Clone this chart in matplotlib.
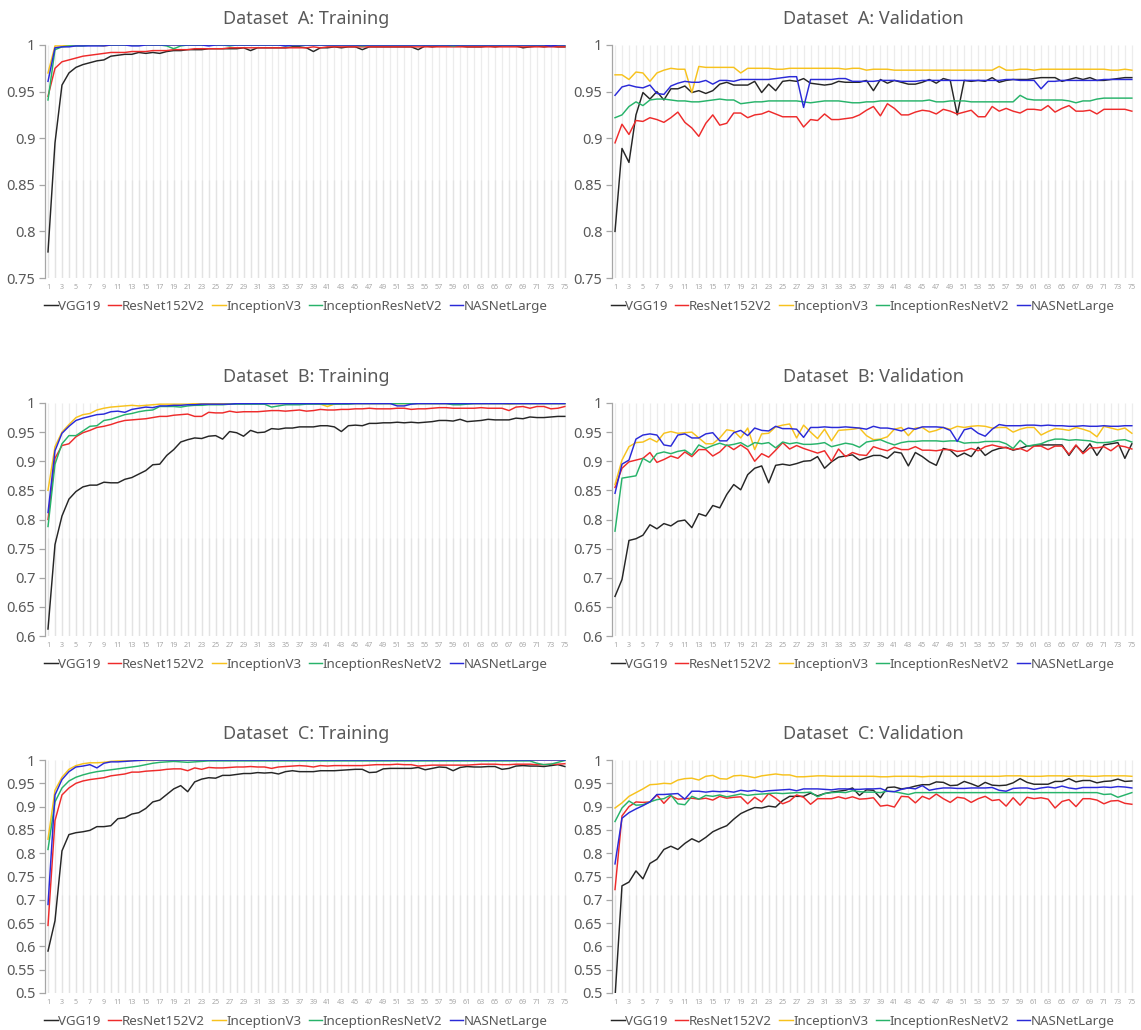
import numpy as np
import matplotlib
matplotlib.use('Agg')
import matplotlib.pyplot as plt
from matplotlib.ticker import FuncFormatter

plt.rcParams['font.family'] = ['Noto Sans', 'DejaVu Sans']

models = ['VGG19', 'ResNet152V2', 'InceptionV3', 'InceptionResNetV2', 'NASNetLarge']
colors = ['#262626', '#ee2b2b', '#f7c21d', '#27b36a', '#2a2ad8']

# ---- Dataset A: training
a_tr_vgg = [0.778, 0.895, 0.957, 0.970, 0.976, 0.979, 0.981, 0.983, 0.984, 0.988, 0.989, 0.990, 0.990, 0.992, 0.991,
            0.992, 0.991, 0.993, 0.994, 0.994, 0.995, 0.995, 0.995, 0.996, 0.996, 0.996, 0.996, 0.996, 0.997, 0.994,
            0.997, 0.997, 0.997, 0.997, 0.997, 0.998, 0.998, 0.997, 0.993, 0.997, 0.997, 0.998, 0.997, 0.998, 0.998,
            0.995, 0.998, 0.998, 0.998, 0.998, 0.998, 0.998, 0.998, 0.995, 0.999, 0.998, 0.999, 0.999, 0.999, 0.999,
            0.998, 0.998, 0.998, 0.999, 0.998, 0.999, 0.999, 0.999, 0.997, 0.998, 0.999, 0.998, 0.999, 0.998, 0.998]
a_tr_res = [0.945, 0.975, 0.982, 0.984, 0.986, 0.988, 0.989, 0.990, 0.991, 0.992, 0.992, 0.992, 0.993, 0.993, 0.993,
            0.994, 0.994, 0.994, 0.995, 0.995, 0.995, 0.996, 0.996, 0.996, 0.996, 0.996, 0.997, 0.997, 0.997, 0.997,
            0.997, 0.997, 0.997, 0.997, 0.997, 0.997, 0.997, 0.997, 0.998, 0.997, 0.998, 0.998, 0.998, 0.998, 0.998,
            0.998, 0.998, 0.998, 0.998, 0.998, 0.998, 0.998, 0.998, 0.998, 0.998, 0.998, 0.998, 0.998, 0.998, 0.998,
            0.998, 0.998, 0.998, 0.998, 0.998, 0.998, 0.998, 0.998, 0.998, 0.998, 0.998, 0.998, 0.998, 0.998, 0.998]
a_tr_inc = [0.970, 0.999, 0.999, 1.000, 1.000, 1.000, 1.000, 1.000, 0.999, 1.000, 1.000, 1.000, 1.000, 1.000, 1.000,
            1.000, 1.000, 1.000, 1.000, 1.000, 1.000, 1.000, 1.000, 1.000, 1.000, 1.000, 1.000, 1.000, 1.000, 1.000,
            1.000, 1.000, 1.000, 1.000, 1.000, 1.000, 1.000, 1.000, 1.000, 1.000, 1.000, 1.000, 1.000, 1.000, 1.000,
            1.000, 1.000, 1.000, 1.000, 1.000, 1.000, 1.000, 1.000, 1.000, 1.000, 1.000, 1.000, 1.000, 1.000, 1.000,
            1.000, 1.000, 1.000, 1.000, 1.000, 1.000, 1.000, 1.000, 1.000, 1.000, 1.000, 1.000, 1.000, 1.000, 1.000]
a_tr_irv = [0.941, 0.995, 0.998, 0.999, 0.999, 0.999, 1.000, 1.000, 1.000, 1.000, 1.000, 1.000, 1.000, 1.000, 1.000,
            1.000, 1.000, 0.999, 0.996, 0.999, 1.000, 1.000, 1.000, 1.000, 1.000, 1.000, 0.999, 1.000, 1.000, 1.000,
            1.000, 1.000, 1.000, 1.000, 0.999, 1.000, 1.000, 1.000, 1.000, 1.000, 1.000, 1.000, 1.000, 1.000, 1.000,
            0.999, 1.000, 1.000, 1.000, 1.000, 1.000, 1.000, 1.000, 1.000, 1.000, 1.000, 1.000, 1.000, 0.999, 1.000,
            1.000, 1.000, 1.000, 1.000, 1.000, 1.000, 1.000, 1.000, 1.000, 1.000, 1.000, 1.000, 1.000, 1.000, 1.000]
a_tr_nas = [0.961, 0.997, 0.998, 0.998, 0.999, 0.999, 0.999, 0.999, 0.999, 1.000, 1.000, 1.000, 0.999, 0.999, 1.000,
            1.000, 1.000, 1.000, 1.000, 1.000, 1.000, 1.000, 1.000, 0.999, 1.000, 1.000, 1.000, 1.000, 1.000, 1.000,
            1.000, 1.000, 1.000, 1.000, 0.999, 1.000, 1.000, 1.000, 1.000, 1.000, 1.000, 1.000, 1.000, 1.000, 1.000,
            1.000, 1.000, 1.000, 1.000, 1.000, 1.000, 1.000, 1.000, 1.000, 1.000, 1.000, 1.000, 1.000, 1.000, 1.000,
            1.000, 1.000, 1.000, 1.000, 1.000, 1.000, 1.000, 1.000, 1.000, 1.000, 1.000, 1.000, 0.999, 1.000, 1.000]

# ---- Dataset A: validation
a_va_vgg = [0.800, 0.889, 0.874, 0.925, 0.949, 0.942, 0.950, 0.941, 0.953, 0.953, 0.956, 0.949, 0.951, 0.948, 0.951,
            0.958, 0.960, 0.957, 0.957, 0.957, 0.961, 0.949, 0.958, 0.951, 0.961, 0.962, 0.961, 0.964, 0.959, 0.958,
            0.957, 0.958, 0.961, 0.960, 0.960, 0.960, 0.962, 0.951, 0.963, 0.959, 0.962, 0.960, 0.958, 0.958, 0.960,
            0.963, 0.959, 0.964, 0.962, 0.925, 0.962, 0.961, 0.962, 0.961, 0.965, 0.960, 0.962, 0.963, 0.963, 0.963,
            0.964, 0.965, 0.965, 0.965, 0.961, 0.963, 0.965, 0.963, 0.965, 0.962, 0.962, 0.963, 0.964, 0.965, 0.965]
a_va_res = [0.895, 0.915, 0.904, 0.919, 0.918, 0.922, 0.920, 0.917, 0.922, 0.928, 0.917, 0.911, 0.902, 0.916, 0.925,
            0.914, 0.916, 0.927, 0.927, 0.922, 0.925, 0.926, 0.929, 0.926, 0.923, 0.923, 0.923, 0.912, 0.920, 0.919,
            0.926, 0.920, 0.920, 0.921, 0.922, 0.925, 0.930, 0.934, 0.924, 0.937, 0.932, 0.925, 0.925, 0.928, 0.930,
            0.929, 0.926, 0.931, 0.929, 0.926, 0.928, 0.930, 0.923, 0.923, 0.934, 0.929, 0.932, 0.929, 0.927, 0.931,
            0.931, 0.930, 0.935, 0.928, 0.932, 0.935, 0.929, 0.929, 0.930, 0.926, 0.931, 0.931, 0.931, 0.931, 0.929]
a_va_inc = [0.968, 0.968, 0.963, 0.971, 0.970, 0.961, 0.970, 0.973, 0.975, 0.974, 0.974, 0.949, 0.977, 0.976, 0.976,
            0.976, 0.976, 0.976, 0.970, 0.975, 0.975, 0.975, 0.975, 0.974, 0.974, 0.975, 0.975, 0.975, 0.975, 0.975,
            0.975, 0.975, 0.975, 0.974, 0.975, 0.975, 0.973, 0.974, 0.974, 0.974, 0.973, 0.973, 0.973, 0.973, 0.973,
            0.973, 0.973, 0.973, 0.973, 0.973, 0.973, 0.973, 0.973, 0.973, 0.973, 0.977, 0.973, 0.973, 0.974, 0.974,
            0.973, 0.974, 0.974, 0.974, 0.974, 0.974, 0.974, 0.974, 0.974, 0.974, 0.974, 0.973, 0.973, 0.974, 0.973]
a_va_irv = [0.922, 0.925, 0.934, 0.939, 0.935, 0.941, 0.942, 0.942, 0.941, 0.940, 0.940, 0.939, 0.939, 0.940, 0.941,
            0.942, 0.941, 0.941, 0.937, 0.938, 0.939, 0.939, 0.940, 0.940, 0.940, 0.940, 0.940, 0.939, 0.938, 0.939,
            0.940, 0.940, 0.940, 0.939, 0.938, 0.938, 0.939, 0.939, 0.940, 0.940, 0.940, 0.940, 0.940, 0.940, 0.940,
            0.941, 0.939, 0.939, 0.940, 0.940, 0.940, 0.939, 0.939, 0.939, 0.939, 0.939, 0.939, 0.939, 0.946, 0.942,
            0.941, 0.941, 0.941, 0.941, 0.941, 0.940, 0.938, 0.940, 0.940, 0.942, 0.943, 0.943, 0.943, 0.943, 0.943]
a_va_nas = [0.946, 0.955, 0.957, 0.955, 0.954, 0.957, 0.948, 0.947, 0.956, 0.959, 0.961, 0.960, 0.960, 0.962, 0.958,
            0.962, 0.962, 0.961, 0.963, 0.963, 0.963, 0.963, 0.963, 0.964, 0.965, 0.966, 0.966, 0.933, 0.963, 0.963,
            0.963, 0.963, 0.964, 0.964, 0.961, 0.961, 0.961, 0.961, 0.962, 0.962, 0.962, 0.961, 0.961, 0.961, 0.962,
            0.962, 0.962, 0.962, 0.962, 0.962, 0.962, 0.962, 0.962, 0.962, 0.962, 0.962, 0.963, 0.963, 0.962, 0.962,
            0.962, 0.953, 0.961, 0.961, 0.962, 0.962, 0.962, 0.962, 0.962, 0.962, 0.963, 0.963, 0.963, 0.963, 0.963]

# ---- Dataset B: training
b_tr_vgg = [0.612, 0.757, 0.806, 0.835, 0.848, 0.856, 0.859, 0.859, 0.864, 0.863, 0.863, 0.869, 0.872, 0.878, 0.884,
            0.894, 0.895, 0.910, 0.920, 0.933, 0.937, 0.940, 0.939, 0.943, 0.944, 0.938, 0.951, 0.949, 0.943, 0.953,
            0.949, 0.950, 0.956, 0.955, 0.957, 0.957, 0.959, 0.959, 0.959, 0.961, 0.961, 0.959, 0.951, 0.961, 0.962,
            0.961, 0.965, 0.965, 0.966, 0.966, 0.967, 0.966, 0.967, 0.966, 0.967, 0.968, 0.970, 0.970, 0.969, 0.972,
            0.968, 0.969, 0.970, 0.972, 0.971, 0.971, 0.971, 0.974, 0.973, 0.976, 0.975, 0.975, 0.976, 0.977, 0.977]
b_tr_res = [0.800, 0.905, 0.927, 0.930, 0.942, 0.949, 0.953, 0.958, 0.960, 0.963, 0.967, 0.970, 0.971, 0.972, 0.973,
            0.975, 0.977, 0.977, 0.979, 0.980, 0.981, 0.977, 0.977, 0.984, 0.983, 0.983, 0.986, 0.984, 0.985, 0.985,
            0.985, 0.986, 0.987, 0.987, 0.986, 0.987, 0.988, 0.986, 0.987, 0.989, 0.988, 0.988, 0.989, 0.989, 0.990,
            0.990, 0.991, 0.990, 0.990, 0.990, 0.991, 0.991, 0.989, 0.990, 0.990, 0.991, 0.992, 0.992, 0.991, 0.991,
            0.991, 0.991, 0.992, 0.991, 0.991, 0.991, 0.987, 0.993, 0.994, 0.991, 0.994, 0.994, 0.990, 0.991, 0.994]
b_tr_inc = [0.850, 0.925, 0.950, 0.963, 0.975, 0.980, 0.982, 0.988, 0.991, 0.993, 0.994, 0.995, 0.996, 0.995, 0.996,
            0.997, 0.998, 0.998, 0.998, 0.998, 0.998, 0.999, 0.999, 0.999, 0.999, 0.999, 0.999, 0.999, 0.999, 0.999,
            0.999, 0.999, 0.999, 0.999, 0.999, 0.999, 0.999, 0.999, 0.999, 0.998, 0.994, 0.998, 0.999, 0.999, 0.999,
            0.999, 0.999, 0.999, 0.999, 0.999, 0.999, 0.999, 0.999, 0.999, 0.999, 0.999, 0.999, 0.999, 0.998, 0.998,
            0.999, 0.999, 0.999, 0.999, 0.999, 0.999, 0.998, 0.999, 0.999, 0.999, 0.999, 0.999, 0.999, 0.999, 0.999]
b_tr_irv = [0.788, 0.895, 0.930, 0.944, 0.944, 0.952, 0.960, 0.961, 0.970, 0.972, 0.976, 0.980, 0.982, 0.985, 0.987,
            0.988, 0.994, 0.994, 0.994, 0.993, 0.995, 0.996, 0.996, 0.997, 0.997, 0.997, 0.998, 0.998, 0.998, 0.998,
            0.998, 0.998, 0.993, 0.995, 0.997, 0.997, 0.997, 0.998, 0.998, 0.998, 0.998, 0.998, 0.998, 0.998, 0.999,
            0.999, 0.999, 0.999, 0.999, 0.999, 0.999, 0.999, 0.999, 0.999, 0.999, 0.999, 0.999, 0.999, 0.997, 0.997,
            0.998, 0.999, 0.999, 0.999, 0.999, 0.999, 0.999, 0.999, 0.999, 0.999, 0.999, 0.999, 0.999, 0.999, 0.999]
b_tr_nas = [0.812, 0.918, 0.948, 0.960, 0.970, 0.974, 0.977, 0.980, 0.981, 0.985, 0.986, 0.984, 0.989, 0.991, 0.993,
            0.992, 0.995, 0.995, 0.996, 0.996, 0.997, 0.997, 0.998, 0.998, 0.998, 0.998, 0.998, 0.999, 0.999, 0.999,
            0.999, 0.999, 0.999, 0.999, 0.999, 0.999, 0.999, 0.999, 0.999, 0.999, 0.999, 0.999, 0.999, 0.999, 0.999,
            0.999, 0.999, 0.999, 0.999, 0.999, 0.995, 0.995, 0.998, 0.999, 0.999, 0.999, 0.999, 0.999, 0.999, 0.999,
            0.999, 0.999, 0.999, 0.999, 0.999, 0.999, 0.999, 0.999, 0.999, 0.999, 0.999, 0.999, 0.999, 0.999, 0.999]

# ---- Dataset B: validation
b_va_vgg = [0.668, 0.697, 0.764, 0.767, 0.773, 0.791, 0.784, 0.793, 0.789, 0.797, 0.799, 0.786, 0.810, 0.806, 0.824,
            0.820, 0.843, 0.860, 0.851, 0.877, 0.888, 0.892, 0.863, 0.893, 0.895, 0.893, 0.896, 0.900, 0.901, 0.908,
            0.888, 0.899, 0.907, 0.909, 0.911, 0.902, 0.906, 0.910, 0.910, 0.905, 0.916, 0.914, 0.892, 0.915, 0.908,
            0.899, 0.893, 0.922, 0.919, 0.908, 0.914, 0.908, 0.924, 0.910, 0.918, 0.922, 0.924, 0.919, 0.922, 0.926,
            0.927, 0.928, 0.928, 0.928, 0.928, 0.910, 0.927, 0.915, 0.930, 0.910, 0.928, 0.930, 0.932, 0.905, 0.930]
b_va_res = [0.855, 0.888, 0.899, 0.902, 0.905, 0.915, 0.898, 0.903, 0.909, 0.905, 0.916, 0.908, 0.920, 0.920, 0.909,
            0.916, 0.928, 0.920, 0.928, 0.920, 0.900, 0.913, 0.907, 0.919, 0.932, 0.921, 0.927, 0.922, 0.918, 0.914,
            0.918, 0.900, 0.921, 0.908, 0.915, 0.911, 0.910, 0.925, 0.921, 0.918, 0.924, 0.920, 0.920, 0.925, 0.919,
            0.919, 0.918, 0.920, 0.920, 0.917, 0.918, 0.922, 0.918, 0.925, 0.928, 0.925, 0.923, 0.920, 0.922, 0.917,
            0.926, 0.926, 0.920, 0.926, 0.926, 0.912, 0.928, 0.913, 0.923, 0.923, 0.925, 0.918, 0.927, 0.925, 0.921]
b_va_inc = [0.860, 0.902, 0.925, 0.932, 0.933, 0.939, 0.933, 0.948, 0.951, 0.948, 0.949, 0.950, 0.940, 0.930, 0.930,
            0.940, 0.954, 0.952, 0.940, 0.957, 0.920, 0.947, 0.948, 0.959, 0.962, 0.964, 0.940, 0.962, 0.950, 0.939,
            0.955, 0.935, 0.953, 0.954, 0.955, 0.957, 0.944, 0.937, 0.938, 0.942, 0.955, 0.958, 0.944, 0.957, 0.958,
            0.950, 0.953, 0.958, 0.955, 0.960, 0.958, 0.960, 0.961, 0.960, 0.957, 0.958, 0.958, 0.950, 0.955, 0.958,
            0.958, 0.945, 0.951, 0.956, 0.955, 0.953, 0.958, 0.955, 0.951, 0.942, 0.960, 0.957, 0.954, 0.957, 0.948]
b_va_irv = [0.780, 0.871, 0.873, 0.875, 0.905, 0.898, 0.913, 0.916, 0.913, 0.917, 0.919, 0.911, 0.928, 0.922, 0.927,
            0.931, 0.927, 0.929, 0.932, 0.925, 0.932, 0.930, 0.932, 0.923, 0.933, 0.930, 0.932, 0.929, 0.929, 0.930,
            0.932, 0.925, 0.928, 0.931, 0.929, 0.924, 0.933, 0.935, 0.937, 0.932, 0.928, 0.932, 0.934, 0.934, 0.935,
            0.935, 0.935, 0.934, 0.935, 0.935, 0.931, 0.932, 0.932, 0.934, 0.934, 0.934, 0.930, 0.922, 0.936, 0.926,
            0.928, 0.930, 0.935, 0.938, 0.938, 0.936, 0.937, 0.936, 0.935, 0.932, 0.932, 0.933, 0.936, 0.937, 0.933]
b_va_nas = [0.845, 0.895, 0.902, 0.938, 0.945, 0.947, 0.945, 0.928, 0.926, 0.945, 0.947, 0.940, 0.940, 0.947, 0.949,
            0.935, 0.935, 0.949, 0.953, 0.944, 0.957, 0.953, 0.952, 0.960, 0.956, 0.956, 0.955, 0.941, 0.958, 0.958,
            0.959, 0.958, 0.958, 0.959, 0.958, 0.957, 0.955, 0.960, 0.957, 0.957, 0.955, 0.952, 0.957, 0.955, 0.959,
            0.959, 0.959, 0.958, 0.953, 0.934, 0.954, 0.957, 0.948, 0.943, 0.955, 0.963, 0.961, 0.961, 0.961, 0.962,
            0.962, 0.961, 0.962, 0.961, 0.961, 0.960, 0.960, 0.961, 0.960, 0.960, 0.961, 0.960, 0.960, 0.961, 0.961]

# ---- Dataset C: training
c_tr_vgg = [0.590, 0.655, 0.805, 0.840, 0.844, 0.846, 0.849, 0.857, 0.857, 0.859, 0.874, 0.876, 0.884, 0.887, 0.896,
            0.910, 0.914, 0.926, 0.938, 0.945, 0.932, 0.953, 0.959, 0.962, 0.961, 0.967, 0.967, 0.969, 0.971, 0.971,
            0.973, 0.972, 0.973, 0.970, 0.975, 0.977, 0.975, 0.975, 0.975, 0.977, 0.977, 0.977, 0.978, 0.979, 0.980,
            0.980, 0.973, 0.974, 0.981, 0.982, 0.982, 0.982, 0.982, 0.984, 0.979, 0.982, 0.985, 0.984, 0.977, 0.984,
            0.986, 0.985, 0.985, 0.986, 0.986, 0.980, 0.982, 0.987, 0.988, 0.987, 0.987, 0.986, 0.988, 0.990, 0.986]
c_tr_res = [0.645, 0.870, 0.925, 0.940, 0.950, 0.955, 0.958, 0.960, 0.962, 0.966, 0.968, 0.970, 0.974, 0.974, 0.976,
            0.977, 0.978, 0.980, 0.981, 0.981, 0.977, 0.983, 0.980, 0.984, 0.983, 0.983, 0.984, 0.985, 0.985, 0.986,
            0.985, 0.985, 0.982, 0.985, 0.986, 0.987, 0.988, 0.987, 0.985, 0.988, 0.987, 0.988, 0.988, 0.988, 0.988,
            0.988, 0.989, 0.990, 0.990, 0.990, 0.991, 0.990, 0.990, 0.987, 0.988, 0.989, 0.989, 0.989, 0.989, 0.989,
            0.989, 0.990, 0.991, 0.991, 0.991, 0.990, 0.990, 0.991, 0.991, 0.991, 0.990, 0.990, 0.991, 0.991, 0.992]
c_tr_inc = [0.830, 0.935, 0.963, 0.980, 0.988, 0.992, 0.994, 0.994, 0.995, 0.997, 0.998, 0.998, 0.999, 0.999, 0.999,
            0.999, 1.000, 1.000, 1.000, 1.000, 1.000, 1.000, 1.000, 1.000, 1.000, 1.000, 1.000, 1.000, 1.000, 1.000,
            1.000, 1.000, 1.000, 1.000, 1.000, 1.000, 1.000, 1.000, 1.000, 1.000, 1.000, 1.000, 1.000, 1.000, 1.000,
            1.000, 1.000, 1.000, 1.000, 1.000, 1.000, 1.000, 1.000, 1.000, 1.000, 1.000, 1.000, 1.000, 1.000, 1.000,
            1.000, 1.000, 1.000, 1.000, 1.000, 1.000, 1.000, 1.000, 1.000, 1.000, 1.000, 1.000, 1.000, 1.000, 1.000]
c_tr_irv = [0.808, 0.910, 0.940, 0.955, 0.963, 0.968, 0.972, 0.975, 0.977, 0.979, 0.981, 0.983, 0.985, 0.987, 0.990,
            0.993, 0.995, 0.996, 0.997, 0.996, 0.995, 0.996, 0.997, 0.998, 0.998, 0.998, 0.998, 0.998, 0.998, 0.998,
            0.998, 0.998, 0.998, 0.998, 0.998, 0.998, 0.998, 0.998, 0.998, 0.998, 0.998, 0.998, 0.998, 0.998, 0.998,
            0.998, 0.998, 0.998, 0.998, 0.998, 0.998, 0.998, 0.998, 0.998, 0.998, 0.998, 0.998, 0.998, 0.998, 0.998,
            0.998, 0.998, 0.998, 0.998, 0.998, 0.998, 0.998, 0.998, 0.998, 0.998, 0.993, 0.990, 0.991, 0.995, 0.999]
c_tr_nas = [0.690, 0.925, 0.958, 0.975, 0.985, 0.987, 0.990, 0.983, 0.993, 0.996, 0.996, 0.997, 0.998, 0.999, 1.000,
            1.000, 1.000, 1.000, 1.000, 1.000, 1.000, 1.000, 1.000, 1.000, 1.000, 1.000, 1.000, 1.000, 1.000, 1.000,
            1.000, 1.000, 1.000, 1.000, 1.000, 1.000, 1.000, 1.000, 1.000, 1.000, 1.000, 1.000, 1.000, 1.000, 1.000,
            1.000, 1.000, 1.000, 1.000, 1.000, 1.000, 1.000, 1.000, 1.000, 1.000, 1.000, 1.000, 1.000, 1.000, 1.000,
            1.000, 1.000, 1.000, 1.000, 1.000, 1.000, 1.000, 1.000, 1.000, 1.000, 1.000, 1.000, 1.000, 1.000, 1.000]

# ---- Dataset C: validation
c_va_vgg = [0.490, 0.730, 0.738, 0.762, 0.745, 0.778, 0.787, 0.808, 0.815, 0.808, 0.821, 0.831, 0.824, 0.834, 0.846,
            0.853, 0.859, 0.873, 0.885, 0.892, 0.898, 0.897, 0.901, 0.899, 0.913, 0.922, 0.922, 0.922, 0.929, 0.923,
            0.928, 0.931, 0.933, 0.935, 0.940, 0.924, 0.936, 0.935, 0.919, 0.941, 0.942, 0.938, 0.940, 0.944, 0.947,
            0.947, 0.953, 0.952, 0.945, 0.946, 0.954, 0.949, 0.943, 0.952, 0.946, 0.945, 0.946, 0.951, 0.960, 0.952,
            0.948, 0.948, 0.948, 0.954, 0.954, 0.960, 0.953, 0.956, 0.956, 0.951, 0.954, 0.955, 0.959, 0.954, 0.955]
c_va_res = [0.722, 0.880, 0.900, 0.910, 0.909, 0.910, 0.925, 0.907, 0.923, 0.916, 0.917, 0.918, 0.916, 0.918, 0.914,
            0.922, 0.918, 0.920, 0.921, 0.906, 0.920, 0.910, 0.928, 0.918, 0.906, 0.912, 0.925, 0.920, 0.905, 0.917,
            0.917, 0.917, 0.921, 0.917, 0.921, 0.916, 0.917, 0.919, 0.901, 0.903, 0.899, 0.922, 0.921, 0.908, 0.922,
            0.916, 0.927, 0.917, 0.909, 0.920, 0.918, 0.909, 0.917, 0.922, 0.913, 0.915, 0.901, 0.919, 0.903, 0.920,
            0.917, 0.919, 0.916, 0.897, 0.911, 0.915, 0.900, 0.917, 0.917, 0.914, 0.906, 0.912, 0.913, 0.907, 0.905]
c_va_inc = [0.897, 0.908, 0.922, 0.930, 0.938, 0.947, 0.948, 0.950, 0.949, 0.957, 0.960, 0.961, 0.957, 0.965, 0.967,
            0.960, 0.959, 0.966, 0.967, 0.965, 0.962, 0.966, 0.968, 0.970, 0.968, 0.968, 0.964, 0.964, 0.965, 0.966,
            0.966, 0.965, 0.965, 0.965, 0.965, 0.965, 0.965, 0.965, 0.964, 0.964, 0.965, 0.965, 0.965, 0.965, 0.964,
            0.965, 0.965, 0.965, 0.965, 0.965, 0.965, 0.965, 0.965, 0.965, 0.965, 0.965, 0.966, 0.966, 0.966, 0.965,
            0.965, 0.965, 0.966, 0.966, 0.966, 0.965, 0.966, 0.966, 0.965, 0.965, 0.966, 0.966, 0.966, 0.966, 0.965]
c_va_irv = [0.868, 0.897, 0.912, 0.903, 0.904, 0.910, 0.915, 0.917, 0.925, 0.906, 0.904, 0.922, 0.916, 0.924, 0.922,
            0.925, 0.921, 0.924, 0.927, 0.924, 0.926, 0.927, 0.928, 0.929, 0.928, 0.929, 0.930, 0.930, 0.931, 0.921,
            0.928, 0.930, 0.931, 0.930, 0.934, 0.932, 0.931, 0.931, 0.930, 0.933, 0.932, 0.929, 0.926, 0.930, 0.930,
            0.930, 0.930, 0.930, 0.930, 0.930, 0.930, 0.930, 0.930, 0.930, 0.930, 0.930, 0.930, 0.930, 0.930, 0.930,
            0.930, 0.930, 0.930, 0.930, 0.930, 0.930, 0.930, 0.930, 0.930, 0.930, 0.926, 0.927, 0.920, 0.925, 0.930]
c_va_nas = [0.777, 0.875, 0.887, 0.895, 0.902, 0.910, 0.926, 0.926, 0.927, 0.928, 0.916, 0.933, 0.933, 0.931, 0.933,
            0.932, 0.933, 0.931, 0.935, 0.933, 0.935, 0.932, 0.934, 0.935, 0.936, 0.937, 0.934, 0.938, 0.938, 0.938,
            0.937, 0.936, 0.938, 0.938, 0.937, 0.937, 0.938, 0.938, 0.939, 0.933, 0.932, 0.937, 0.940, 0.938, 0.945,
            0.935, 0.938, 0.940, 0.940, 0.939, 0.939, 0.940, 0.940, 0.940, 0.941, 0.935, 0.933, 0.939, 0.940, 0.940,
            0.937, 0.940, 0.942, 0.940, 0.944, 0.940, 0.938, 0.941, 0.941, 0.941, 0.942, 0.941, 0.943, 0.942, 0.940]

panels = [
    ('Dataset  A: Training', 0.75, [a_tr_vgg, a_tr_res, a_tr_inc, a_tr_irv, a_tr_nas]),
    ('Dataset  A: Validation', 0.75, [a_va_vgg, a_va_res, a_va_inc, a_va_irv, a_va_nas]),
    ('Dataset  B: Training', 0.6, [b_tr_vgg, b_tr_res, b_tr_inc, b_tr_irv, b_tr_nas]),
    ('Dataset  B: Validation', 0.6, [b_va_vgg, b_va_res, b_va_inc, b_va_irv, b_va_nas]),
    ('Dataset  C: Training', 0.5, [c_tr_vgg, c_tr_res, c_tr_inc, c_tr_irv, c_tr_nas]),
    ('Dataset  C: Validation', 0.5, [c_va_vgg, c_va_res, c_va_inc, c_va_irv, c_va_nas]),
]

W, H = 1141, 1030
fig = plt.figure(figsize=(W / 100, H / 100), dpi=100)

col_left = [45, 612]
row_top = [45, 403, 760]
ax_w, ax_h = 523, 233

for k, (title, ymin, series) in enumerate(panels):
    r, c = k // 2, k % 2
    ax = fig.add_axes([col_left[c] / W, 1 - (row_top[r] + ax_h) / H, ax_w / W, ax_h / H])
    n = len(series[0])
    epochs = np.arange(1, n + 1)

    # light vertical stripes
    ax.vlines(epochs, ymin, 1.0, color='#ececec', lw=0.9, zorder=0)
    ax.vlines(epochs, ymin, ymin + 0.42 * (1 - ymin), color='#e3e3e3', lw=0.9, zorder=0)

    for s, name, col in zip(series, models, colors):
        ax.plot(np.arange(1, len(s) + 1), s, color=col, lw=1.05, label=name, zorder=3)

    ax.set_xlim(0.57, n + 0.45)
    ax.set_ylim(ymin, 1.0)
    ax.set_yticks(np.arange(ymin, 1.0001, 0.05))
    ax.yaxis.set_major_formatter(FuncFormatter(lambda v, p: '{:g}'.format(round(v, 2))))
    ax.set_xticks(epochs[::2])
    ax.set_xticklabels([str(e) for e in epochs[::2]])

    for sp in ['top', 'right', 'bottom']:
        ax.spines[sp].set_visible(False)
    ax.spines['left'].set_color('#a6a6a6')
    ax.spines['left'].set_linewidth(0.9)
    ax.tick_params(axis='y', colors='#a6a6a6', labelcolor='#595959', labelsize=10.5, length=4, width=0.9, pad=3)
    ax.tick_params(axis='x', length=0, labelcolor='#a6a6a6', labelsize=5.2, pad=4)

    ax.set_title(title, color='#595959', fontsize=13, pad=15)
    leg = ax.legend(loc='upper center', bbox_to_anchor=(0.48, -0.06), ncol=5, frameon=False,
                    handlelength=1.0, handletextpad=0.05, columnspacing=0.55, fontsize=9.6,
                    borderaxespad=0.2)
    for t in leg.get_texts():
        t.set_color('#595959')

fig.savefig('out.png', dpi=100, facecolor='white')
